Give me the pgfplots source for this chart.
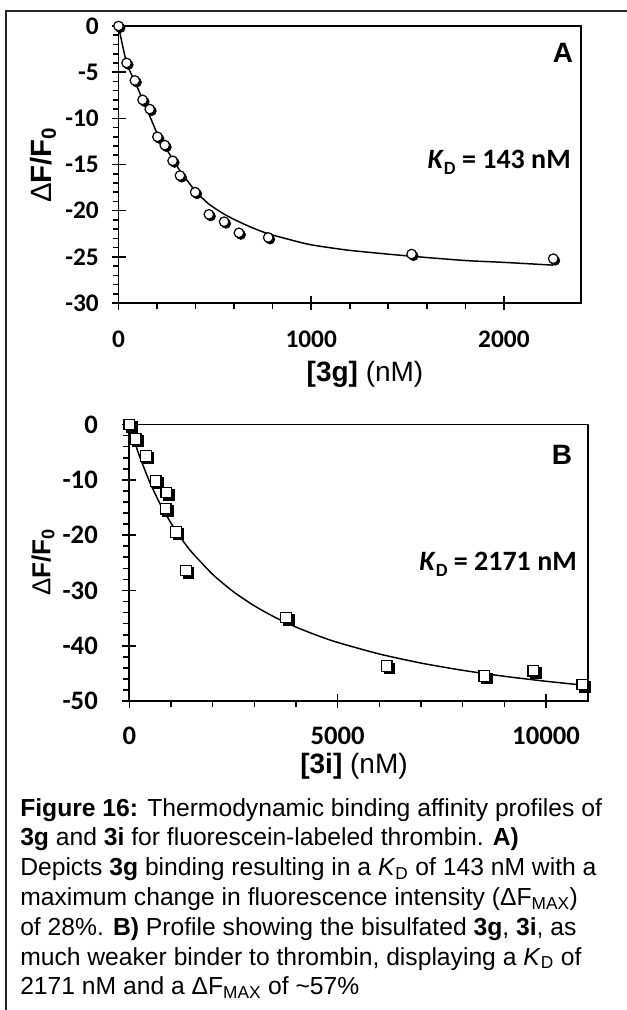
\documentclass[border=0pt]{standalone}
\usepackage{fontspec}
\setmainfont{Liberation Sans}
\newfontfamily\calib{Carlito}
\usepackage{pgfplots}
\usepackage{pgfplotstable}
\pgfplotsset{compat=1.18}

% Panel A: measured points
\pgfplotstableread{
x y
0 0
42 -4.0
85 -5.9
125 -8.0
162 -9.0
202 -12.0
240 -12.9
281 -14.6
319 -16.2
398 -18.0
469 -20.4
548 -21.2
625 -22.4
777 -22.9
1521 -24.7
2256 -25.2
}\ptsA

% Panel A: fitted curve
\pgfplotstableread{
x y
0 0
42 -4.0
85 -6.0
125 -8.0
165 -9.9
200 -11.6
240 -13.0
280 -14.4
320 -15.7
400 -17.9
470 -19.3
550 -20.4
625 -21.2
700 -21.9
777 -22.5
900 -23.2
1000 -23.7
1200 -24.3
1500 -24.9
1800 -25.4
2000 -25.6
2256 -25.9
}\fitA

% Panel B: measured points
\pgfplotstableread{
x y
0 0
153 -2.6
400 -5.7
633 -10.2
889 -12.3
873 -15.2
1121 -19.4
1361 -26.4
3761 -34.9
6177 -43.7
8520 -45.5
9696 -44.5
10872 -47.0
}\ptsB

% Panel B: fitted curve
\pgfplotstableread{
x y
0 0
100 -2.49
250 -5.83
500 -10.58
750 -14.51
1000 -17.82
1250 -20.64
1500 -23.09
2000 -27.09
2500 -30.24
3000 -32.78
3500 -34.87
4000 -36.62
4500 -38.11
5000 -39.40
6000 -41.49
7000 -43.13
8000 -44.44
9000 -45.52
10000 -46.42
10872 -47.10
}\fitB

\pgfplotsset{
  panel/.style={
    scale only axis,
    anchor=north west,
    axis line style={line width=1.3pt},
    tick style={black, line width=1.2pt},
    tick align=center,
    major tick length=10.5pt,
    minor tick length=4.5pt,
    minor x tick style={yshift=-2.25pt},
    minor y tick style={xshift=-2.25pt},
    tick pos=left,
    minor x tick num=4,
    minor y tick num=4,
    scaled x ticks=false,
    scaled y ticks=false,
    clip=false,
    xticklabel style={inner sep=0pt, anchor=center},
    yticklabel style={inner sep=0pt, anchor=east},
  },
}

\begin{document}
\begin{tikzpicture}
\useasboundingbox (0,0) rectangle (469.5pt,-757.5pt);

% ---------- Panel A ----------
\begin{axis}[panel,
  at={(88.875pt,-19.5pt)},
  width=346.875pt, height=207.75pt,
  xmin=0, xmax=2400, ymin=-30, ymax=0,
  xtick={0,1000,2000}, xticklabels={0,1000,2000},
  ytick={-30,-25,-20,-15,-10,-5,0},
  yticklabels={-30,-25,-20,-15,-10,-5,0},
  xticklabel style={font=\calib\bfseries\fontsize{19pt}{19pt}\selectfont, yshift=-22pt},
  yticklabel style={font=\calib\bfseries\fontsize{19pt}{19pt}\selectfont, xshift=-9.4pt},
]
\addplot[black, line width=1.1pt, smooth, tension=0.4, no marks] table {\fitA};
\addplot[only marks, mark=*, mark size=3.6pt,
  mark options={draw=black, fill=black, xshift=1.4pt, yshift=-1.4pt}] table {\ptsA};
\addplot[only marks, mark=*, mark size=3.6pt,
  mark options={draw=black, fill=white, line width=0.9pt}] table {\ptsA};
\end{axis}

% ---------- Panel B ----------
\begin{axis}[panel,
  at={(96.98pt,-318.4pt)},
  width=343.8pt, height=207.4pt,
  xmin=0, xmax=11000, ymin=-50, ymax=0,
  xtick={0,5000,10000}, xticklabels={0,5000,10000},
  ytick={-50,-40,-30,-20,-10,0},
  yticklabels={-50,-40,-30,-20,-10,0},
  xticklabel style={font=\calib\bfseries\fontsize{20pt}{20pt}\selectfont, yshift=-20.5pt},
  yticklabel style={font=\calib\bfseries\fontsize{20pt}{20pt}\selectfont, xshift=-18.2pt},
]
\addplot[black, line width=1.1pt, smooth, tension=0.4, no marks] table {\fitB};
\addplot[only marks, mark=square*, mark size=4pt,
  mark options={draw=black, fill=black, xshift=1.8pt, yshift=-1.5pt}] table {\ptsB};
\addplot[only marks, mark=square*, mark size=4pt,
  mark options={draw=black, fill=white, line width=0.9pt}] table {\ptsB};
\end{axis}

\begin{scope}[x=0.75pt, y=-0.75pt]
% outer frame
\draw[line width=0.8pt, black!85] (6,1012) -- (6,11) -- (630,11);

% panel letters
\node[font=\bfseries\fontsize{21pt}{21pt}\selectfont, inner sep=0pt] at (563,53) {A};
\node[font=\bfseries\fontsize{21pt}{21pt}\selectfont, inner sep=0pt] at (562,455) {B};

% KD annotations
\node[font=\calib\bfseries\fontsize{21pt}{21pt}\selectfont, inner sep=0pt, anchor=base east] at (571,168)
  {\textit{K}\raisebox{-0.22em}{\fontsize{14pt}{14pt}\selectfont D} = 143 nM};
\node[font=\calib\bfseries\fontsize{21pt}{21pt}\selectfont, inner sep=0pt, anchor=base east] at (577,570)
  {\textit{K}\raisebox{-0.22em}{\fontsize{14pt}{14pt}\selectfont D} = 2171 nM};

% y labels
\node[rotate=90, inner sep=0pt, font=\fontsize{22pt}{22pt}\selectfont] at (43,165)
  {Δ\textbf{F/F\textsubscript{0}}};
\node[rotate=90, inner sep=0pt, font=\fontsize{19.5pt}{19.5pt}\selectfont] at (43,562)
  {Δ\textbf{F/F\textsubscript{0}}};

% x labels
\node[inner sep=0pt, font=\fontsize{21pt}{21pt}\selectfont] at (365,374) {\textbf{[3g]} (nM)};
\node[inner sep=0pt, font=\fontsize{21pt}{21pt}\selectfont] at (354,766) {\textbf{[3i]} (nM)};

% caption
\begin{scope}[every node/.style={anchor=base west, inner sep=0pt, font=\fontsize{18.5pt}{22pt}\selectfont}]
\node at (20,816) {\textbf{Figure 16:} Thermodynamic binding affinity profiles of};
\node at (20,845.8) {\textbf{3g} and \textbf{3i} for fluorescein-labeled thrombin. \textbf{A)}};
\node at (20,875.6) {Depicts \textbf{3g} binding resulting in a \textit{K}\textsubscript{D} of 143 nM with a};
\node at (20,905.4) {maximum change in fluorescence intensity (ΔF\textsubscript{MAX})};
\node at (20,935.2) {of 28\%. \textbf{B)} Profile showing the bisulfated \textbf{3g}, \textbf{3i}, as};
\node at (20,965) {much weaker binder to thrombin, displaying a \textit{K}\textsubscript{D} of};
\node at (20,994.8) {2171 nM and a ΔF\textsubscript{MAX} of \textasciitilde 57\%};
\end{scope}
\end{scope}
\end{tikzpicture}
\end{document}
